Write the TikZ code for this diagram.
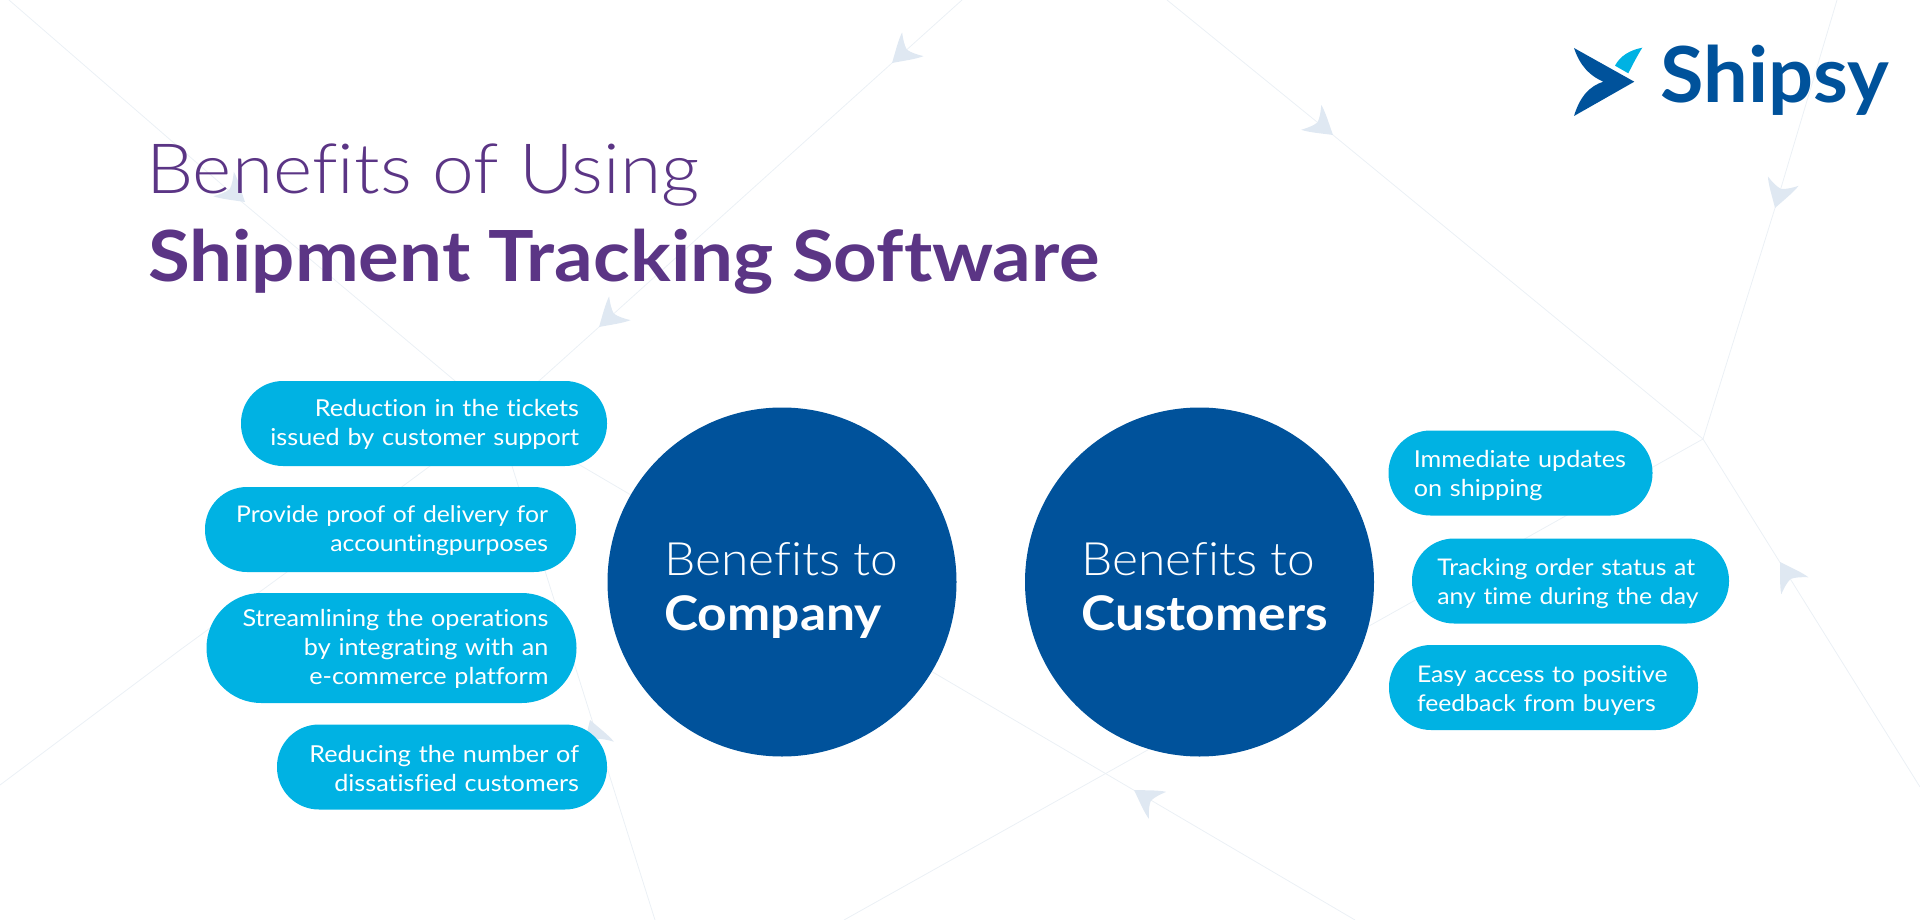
\documentclass[tikz,border=0pt]{standalone}
\usepackage{fontspec}
\setmainfont{Lato}[FakeStretch=1.08,Ligatures=NoCommon]
\newfontfamily\lightfont{Lato Light}[FakeStretch=1.08,Ligatures=NoCommon]
\newfontfamily\logofont{Lato Bold}[FakeStretch=1.025]
\definecolor{darkblue}{HTML}{00529B}
\definecolor{pillblue}{HTML}{00B2E3}
\definecolor{titlepurple}{HTML}{5B3585}
\definecolor{trackline}{HTML}{EBF0F5}
\definecolor{headblue}{HTML}{DFE8F2}
\tikzset{
  trackpath/.style={draw=trackline,line width=0.6pt},
  planehead/.pic={\fill[headblue] (0,0) .. controls (-10,-6) and (-20,-13) .. (-28,-16) .. controls (-24,-10) and (-21,-5) .. (-20,0) .. controls (-21,5) and (-24,10) .. (-28,16) .. controls (-20,13) and (-10,6) .. (0,0) -- cycle;},
  pill/.style={fill=pillblue,text=white,rounded corners=31.5pt,inner xsep=21pt,inner ysep=0pt,minimum height=63.75pt,text height=14.4pt,font=\fontsize{17.5}{21.75}\selectfont},
  tightpill/.style={pill,font=\fontsize{17.2}{21.75}\selectfont},
  hub/.style={circle,fill=darkblue,minimum size=261.75pt,inner sep=0pt},
  hubtext/.style={anchor=north west,text=white,inner sep=0pt,align=left,font=\fontsize{34.5}{41.2}\selectfont}
}
\begin{document}
\begin{tikzpicture}[x=0.75pt,y=0.75pt,yscale=-1,xscale=1]
\useasboundingbox (0,0) rectangle (1920,920);

% Joints of the route lines
\coordinate (jointL) at (498,417);
\coordinate (jointR) at (1703,439);

% Route lines
\draw [trackpath] (9,0) -- (242,202) -- (jointL) -- (936,674) -- (1355,920);
\draw [trackpath] (jointL) -- (512,466) -- (592,720) -- (655,920);
\draw [trackpath] (962,0) -- (892,63) -- (599,327) -- (540,380) -- (430,466) -- (287,572) -- (180,650) -- (0,785);
\draw [trackpath] (1167,0) -- (1333,135) -- (jointR);
\draw [trackpath] (1837,0) -- (1775,208) -- (jointR);
\draw [trackpath] (jointR) -- (1920,787);
\draw [trackpath] (jointR) -- (844,920);

% Plane heads on the lines
\path (245,202) pic [rotate=-40] {planehead};
\path (892,63) pic [rotate=-138] {planehead};
\path (599,327) pic [rotate=-138] {planehead};
\path (1333,135) pic [rotate=-39] {planehead};
\path (1775,208) pic [rotate=-107] {planehead};
\path (1780,562) pic [rotate=-238] {planehead};
\path (1134,790) pic [rotate=-213] {planehead};
\path (590,720) pic [rotate=-252] {planehead};

% Title
\draw (146,194) node (titletop) [anchor=base west,inner sep=0pt,text=titlepurple,font=\lightfont\fontsize{52}{60}\selectfont] {Benefits of Using};
\draw (148,281) node (titlebottom) [anchor=base west,inner sep=0pt,text=titlepurple,font=\bfseries\fontsize{52.9}{60}\selectfont] {Shipment Tracking Software};

% Logo
\fill [darkblue] (1574,48) -- (1634.3,81.7) -- (1574,116) .. controls (1580,96) and (1590,86) .. (1603.3,81.7) .. controls (1590,76) and (1580,66) .. (1574,48) -- cycle;
\fill [pillblue] (1642.3,47.7) .. controls (1630,50) and (1620,56) .. (1615,65.7) -- (1628.3,73.3) .. controls (1632,66) and (1637,56) .. (1642.3,47.7) -- cycle;
\draw (1660,103) node (logotext) [anchor=base west,inner sep=0pt,text=darkblue,font=\logofont\fontsize{58}{60}\selectfont] {Shipsy};

% Circles
\draw (782,582) node (company) [hub] {};
\draw (1199.5,582) node (customers) [hub] {};
\draw (664,542) node (companylabel) [hubtext] {\lightfont Benefits to\\\fontsize{35.8}{41.2}\selectfont\bfseries Company};
\draw (1081,542) node (customerslabel) [hubtext] {\lightfont Benefits to\\\fontsize{35.8}{41.2}\selectfont\bfseries Customers};

% Left pills
\draw (424,423.5) node (tickets) [pill,text width=232.5pt,align=right] {Reduction in the tickets\\issued by customer support};
\draw (390.5,529.5) node (proof) [tightpill,text width=236.25pt,align=right] {Provide proof of delivery for\\accountingpurposes};
\draw (391.5,648) node (operations) [pill,text width=235.5pt,align=right,minimum height=82.5pt,rounded corners=41pt] {Streamlining the operations\\by integrating with an\\e-commerce platform};
\draw (442,767) node (dissatisfied) [pill,text width=205.5pt,align=right] {Reducing the number of\\dissatisfied customers};

% Right pills
\draw (1520.5,473) node (updates) [pill,inner xsep=19pt,text width=160pt,text height=16.8pt,align=left] {Immediate updates\\on shipping};
\draw (1570.5,581) node (status) [tightpill,inner xsep=19pt,text width=199.75pt,text height=16.8pt,align=left] {Tracking order status at\\any time during the day};
\draw (1543.5,687.5) node (feedback) [tightpill,text width=189.75pt,text height=16.8pt,align=left] {Easy access to positive\\feedback from buyers};
\end{tikzpicture}
\end{document}
